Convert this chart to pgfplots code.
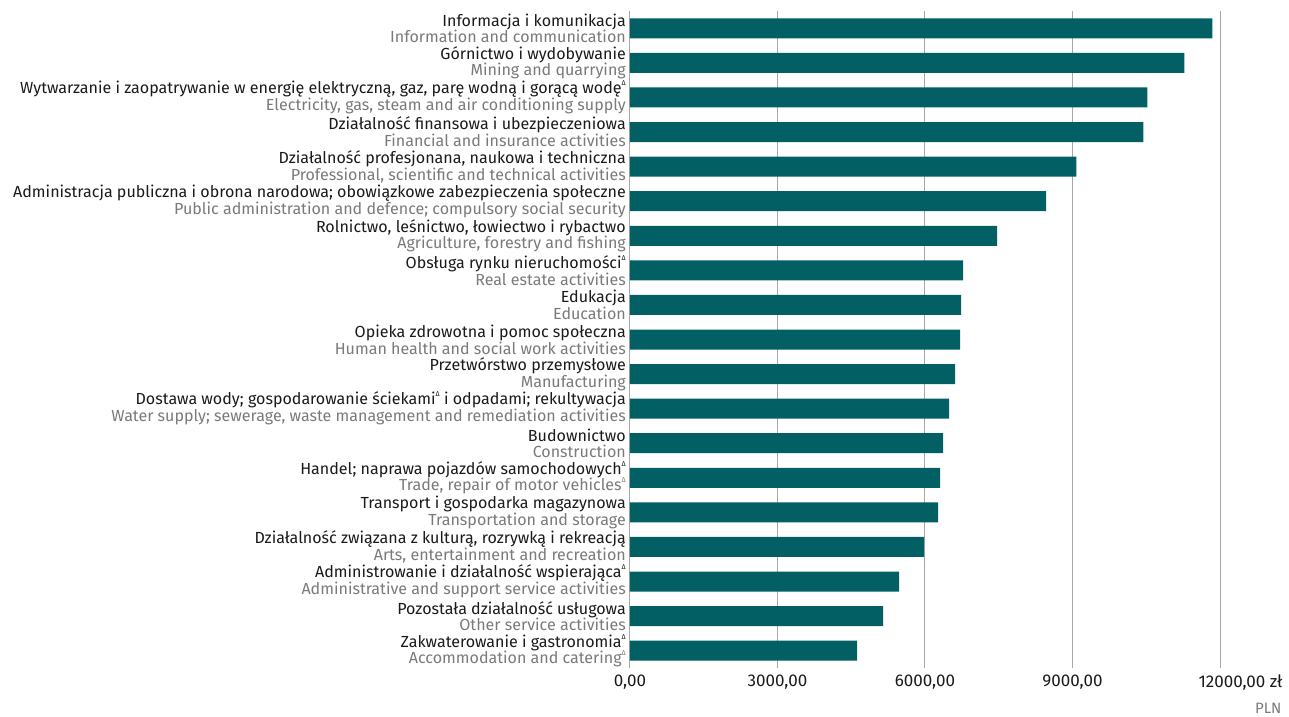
\documentclass[border=0pt]{standalone}
\usepackage{fontspec}
\setmainfont{Fira Sans}
\usepackage{pgfplots}
\pgfplotsset{compat=1.18}
\definecolor{barc}{HTML}{025F64}
\definecolor{eng}{HTML}{7A7A7A}
\definecolor{gridc}{HTML}{A8A8A8}
\definecolor{txt}{HTML}{1A1A1A}
\newcommand{\lab}[2]{#1\\\textcolor{eng}{#2}}
\newcommand{\tri}{\raisebox{0.5em}{\fontsize{7}{7}\selectfont Δ}}

\begin{document}
\begin{tikzpicture}
\begin{axis}[
    scale only axis,
    width=590pt,
    height=657pt,
    xbar,
    bar width=20pt,
    xmin=0, xmax=12000,
    ymin=-0.5, ymax=18.5,
    y dir=reverse,
    axis line style={draw=none},
    major tick length=0pt,
    xmajorgrids,
    grid style={draw=gridc, line width=1pt},
    scaled x ticks=false,
    xtick={0,3000,6000,9000,12000},
    xticklabels={{0,00},{3000,00},{6000,00},{9000,00},{\hspace*{41pt}12000,00 zł}},
    xticklabel style={font=\fontsize{17}{19}\selectfont, text=txt, yshift=-3pt},
    ytick={0,...,18},
    yticklabels={
        {\lab{Informacja i komunikacja}{Information and communication}},
        {\lab{Górnictwo i wydobywanie}{Mining and quarrying}},
        {\lab{Wytwarzanie i zaopatrywanie w energię elektryczną, gaz, parę wodną i gorącą wodę\tri}{Electricity, gas, steam and air conditioning supply}},
        {\lab{Działalność finansowa i ubezpieczeniowa}{Financial and insurance activities}},
        {\lab{Działalność profesjonana, naukowa i techniczna}{Professional, scientific and technical activities}},
        {\lab{Administracja publiczna i obrona narodowa; obowiązkowe zabezpieczenia społeczne}{Public administration and defence; compulsory social security}},
        {\lab{Rolnictwo, leśnictwo, łowiectwo i rybactwo}{Agriculture, forestry and fishing}},
        {\lab{Obsługa rynku nieruchomości\tri}{Real estate activities}},
        {\lab{Edukacja}{Education}},
        {\lab{Opieka zdrowotna i pomoc społeczna}{Human health and social work activities}},
        {\lab{Przetwórstwo przemysłowe}{Manufacturing}},
        {\lab{Dostawa wody; gospodarowanie ściekami\tri{} i odpadami; rekultywacja}{Water supply; sewerage, waste management and remediation activities}},
        {\lab{Budownictwo}{Construction}},
        {\lab{Handel; naprawa pojazdów samochodowych\tri}{Trade, repair of motor vehicles\tri}},
        {\lab{Transport i gospodarka magazynowa}{Transportation and storage}},
        {\lab{Działalność związana z kulturą, rozrywką i rekreacją}{Arts, entertainment and recreation}},
        {\lab{Administrowanie i działalność wspierająca\tri}{Administrative and support service activities}},
        {\lab{Pozostała działalność usługowa}{Other service activities}},
        {\lab{Zakwaterowanie i gastronomia\tri}{Accommodation and catering\tri}},
    },
    yticklabel style={align=right, font=\fontsize{16.05}{16.8}\selectfont, text=txt, inner xsep=4pt},
]
\addplot[fill=barc, draw=none] coordinates {
    (11847,0)
    (11277,1)
    (10523,2)
    (10442,3)
    (9077,4)
    (8466,5)
    (7468,6)
    (6776,7)
    (6735,8)
    (6715,9)
    (6613,10)
    (6491,11)
    (6369,12)
    (6307,13)
    (6267,14)
    (5982,15)
    (5473,16)
    (5147,17)
    (4617,18)
};
\end{axis}
\node[anchor=base east, text=eng, font=\fontsize{15}{17}\selectfont]
    at ([xshift=65pt, yshift=-45pt]current axis.south east) {PLN};
\path ([xshift=-630pt, yshift=11pt]current axis.north west)
    rectangle ([xshift=69pt, yshift=-46pt]current axis.south east);
\end{tikzpicture}
\end{document}
